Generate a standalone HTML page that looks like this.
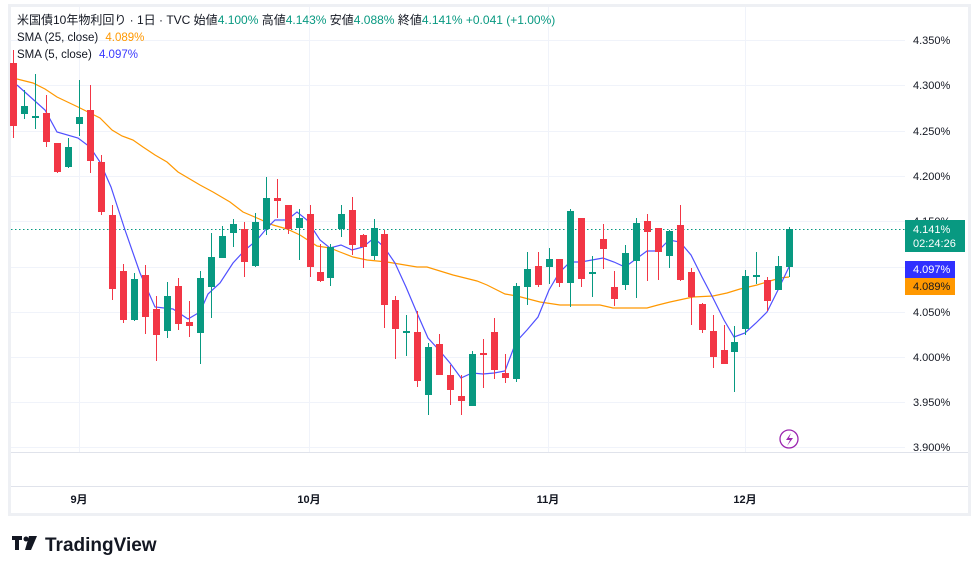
<!DOCTYPE html>
<html><head><meta charset="utf-8"><style>
html,body{margin:0;padding:0;background:#fff;width:980px;height:574px;overflow:hidden}
svg{display:block}
text{font-family:"Liberation Sans","Noto Sans CJK JP",sans-serif}
</style></head><body>
<svg width="980" height="574" viewBox="0 0 980 574" xmlns="http://www.w3.org/2000/svg">
<rect x="9.5" y="5.5" width="960" height="509" fill="#fff" stroke="#eef0f4" stroke-width="3"/>
<g stroke="#f0f3fa" stroke-width="1">
<line x1="11" x2="905" y1="40.5" y2="40.5"/><line x1="11" x2="905" y1="85.5" y2="85.5"/>
<line x1="11" x2="905" y1="131.5" y2="131.5"/><line x1="11" x2="905" y1="176.5" y2="176.5"/>
<line x1="11" x2="905" y1="221.5" y2="221.5"/><line x1="11" x2="905" y1="267.5" y2="267.5"/>
<line x1="11" x2="905" y1="312.5" y2="312.5"/><line x1="11" x2="905" y1="357.5" y2="357.5"/>
<line x1="11" x2="905" y1="402.5" y2="402.5"/><line x1="11" x2="905" y1="447.5" y2="447.5"/>
<line x1="79.5" x2="79.5" y1="7" y2="452"/><line x1="309.5" x2="309.5" y1="7" y2="452"/>
<line x1="548.5" x2="548.5" y1="7" y2="452"/><line x1="745.5" x2="745.5" y1="7" y2="452"/>
</g>
<line x1="11" x2="968" y1="452.5" y2="452.5" stroke="#e0e3eb"/>
<line x1="11" x2="968" y1="486.5" y2="486.5" stroke="#e0e3eb"/>
<line x1="11" x2="905" y1="229.5" y2="229.5" stroke="#089981" stroke-dasharray="1.5,2.5"/>
<polyline fill="none" stroke="#ff9800" stroke-width="1.2" points="17,79 33,83 45,89 57,97 78,107 100,118 112,130 122,136 133,140 143,147 155,155 167,162 178,172 200,185 213,192 230,202 243,212 257,218 273,225 287,229 300,235 317,246 330,248 340,252 353,257 367,260 387,262 417,267 427,267 453,275 477,281 487,285 505,294 517,296 540,302 560,305 600,305 613,308 647,308 658,305 670,302 693,297 713,296 727,293 740,289 757,285 770,281 780,278 789,277"/>
<polyline fill="none" stroke="#5050ff" stroke-width="1.2" points="17,85 45,110 57,132 78,138 90,147 100,162 111,187 125,230 140,273 155,307 173,309 188,319 200,312 208,294 220,283 233,263 245,250 257,240 267,228 275,220 287,220 297,212 307,220 320,240 330,248 341,245 352,250 363,247 374,238 384,247 395,263 406,287 417,313 428,338 439,350 450,363 461,378 472,373 483,374 494,373 505,371 516,342 527,330 538,317 549,290 559,273 570,262 581,262 592,260 603,258 614,262 625,267 636,259 647,251 658,251 669,240 680,242 691,255 702,277 713,298 724,320 734,337 745,333 756,323 767,312 778,290 789,267"/>
<g id="c"></g>
<text x="17" y="24" font-size="12" fill="#131722">米国債10年物利回り · 1日 · TVC  始値<tspan fill="#089981">4.100%</tspan>  高値<tspan fill="#089981">4.143%</tspan>  安値<tspan fill="#089981">4.088%</tspan>  終値<tspan fill="#089981">4.141%</tspan> <tspan fill="#089981">+0.041 (+1.00%)</tspan></text>
<text x="17" y="41" font-size="11.5" fill="#131722">SMA (25, close) <tspan fill="#ff9800" dx="4">4.089%</tspan></text>
<text x="17" y="58" font-size="11.5" fill="#131722">SMA (5, close) <tspan fill="#3a3aff" dx="4">4.097%</tspan></text>
<g font-size="11" fill="#131722">
<text x="913" y="44">4.350%</text><text x="913" y="89">4.300%</text><text x="913" y="135">4.250%</text>
<text x="913" y="180">4.200%</text><text x="913" y="225">4.150%</text><text x="913" y="316">4.050%</text>
<text x="913" y="361">4.000%</text><text x="913" y="406">3.950%</text><text x="913" y="451">3.900%</text>
</g>
<rect x="905" y="220" width="60" height="32" fill="#089981"/>
<text x="913" y="233" font-size="11" fill="#fff">4.141%</text>
<text x="913" y="247" font-size="11" fill="#fff">02:24:26</text>
<rect x="905" y="261" width="50" height="17" fill="#3030ff"/>
<text x="913" y="273" font-size="11" fill="#fff">4.097%</text>
<rect x="905" y="278" width="50" height="17" fill="#ff9800"/>
<text x="913" y="290" font-size="11" fill="#131722">4.089%</text>
<circle cx="789" cy="439" r="9" fill="none" stroke="#9c27b0" stroke-width="1.3"/>
<path d="M791,433 L786,440 L790,440 L787,446 L793,438 L789,438 Z" fill="#9c27b0"/>
<g font-size="11" font-weight="bold" fill="#131722" text-anchor="middle">
<text x="79" y="503">9月</text><text x="309" y="503">10月</text><text x="548" y="503">11月</text><text x="745" y="503">12月</text>
</g>
<rect x="12" y="536" width="10" height="4" fill="#131722"/><rect x="15" y="536" width="4" height="14" fill="#131722"/>
<circle cx="26" cy="539" r="2.5" fill="#131722"/><path d="M29,536 L37,536 L31,550 L25,550 Z" fill="#131722"/>
<text x="45" y="551" font-size="19" font-weight="bold" fill="#131722">TradingView</text>
</svg>
<script>
var d=[[13,'r',63,126,50,138],[24,'g',106,114,90,119],[35,'g',116,118,74,129],[46,'r',113,142,95,147],[57,'r',143,172,143,173],[68,'g',147,167,138,168],[79,'g',117,124,80,136],[90,'r',110,161,85,173],[101,'r',162,212,155,215],[112,'r',215,289,205,300],[123,'r',271,320,264,323],[134,'g',279,320,273,321],[145,'r',275,317,265,334],[156,'r',309,335,296,361],[167,'g',296,331,282,338],[178,'r',286,324,278,330],[189,'r',322,326,301,337],[200,'g',278,333,271,364],[211,'g',257,287,233,318],[222,'g',236,258,226,247],[233,'g',224,233,219,247],[244,'r',229,262,222,277],[255,'g',222,266,213,267],[266,'g',198,229,177,235],[277,'r',198,201,179,218],[288,'r',205,229,205,234],[299,'g',218,228,209,260],[310,'r',214,267,205,277],[320,'r',272,281,244,282],[330,'g',247,278,244,286],[341,'g',214,229,205,237],[352,'r',210,245,197,255],[363,'r',235,247,234,268],[374,'g',228,256,219,260],[384,'r',234,305,230,328],[395,'r',300,329,296,359],[406,'g',331,333,315,356],[417,'r',332,381,311,387],[428,'g',347,395,343,415],[439,'r',344,375,334,375],[450,'r',375,390,365,405],[461,'r',396,401,375,415],[472,'g',354,406,351,406],[483,'r',353,355,339,388],[494,'r',332,370,318,379],[505,'r',373,378,354,383],[516,'g',286,379,283,382],[527,'g',269,287,252,305],[538,'r',266,285,252,287],[549,'g',259,267,248,284],[559,'r',259,283,259,287],[570,'g',211,283,209,307],[581,'r',218,279,218,287],[592,'g',272,274,256,297],[603,'r',239,249,224,269],[614,'r',287,299,271,306],[625,'g',253,285,245,290],[636,'g',223,261,218,298],[647,'r',221,232,214,281],[658,'r',228,252,228,280],[669,'g',231,256,230,268],[680,'r',225,280,205,281],[691,'r',272,297,268,325],[702,'r',304,330,303,333],[713,'r',331,357,315,368],[724,'r',350,364,325,364],[734,'g',342,352,326,392],[745,'g',276,329,270,335],[756,'g',275,277,252,284],[767,'r',280,301,277,311],[778,'g',266,290,256,290],[789,'g',229,267,227,277]];
var s='';
d.forEach(function(c){var col=c[1]=='g'?'#089981':'#f23645';
s+='<line x1="'+(c[0]+.5)+'" x2="'+(c[0]+.5)+'" y1="'+c[4]+'" y2="'+c[5]+'" stroke="'+col+'" stroke-width="1"/>';
s+='<rect x="'+(c[0]-3)+'" y="'+c[2]+'" width="7" height="'+Math.max(1.5,c[3]-c[2])+'" fill="'+col+'"/>';});
document.getElementById('c').innerHTML=s;
</script>
</body></html>
